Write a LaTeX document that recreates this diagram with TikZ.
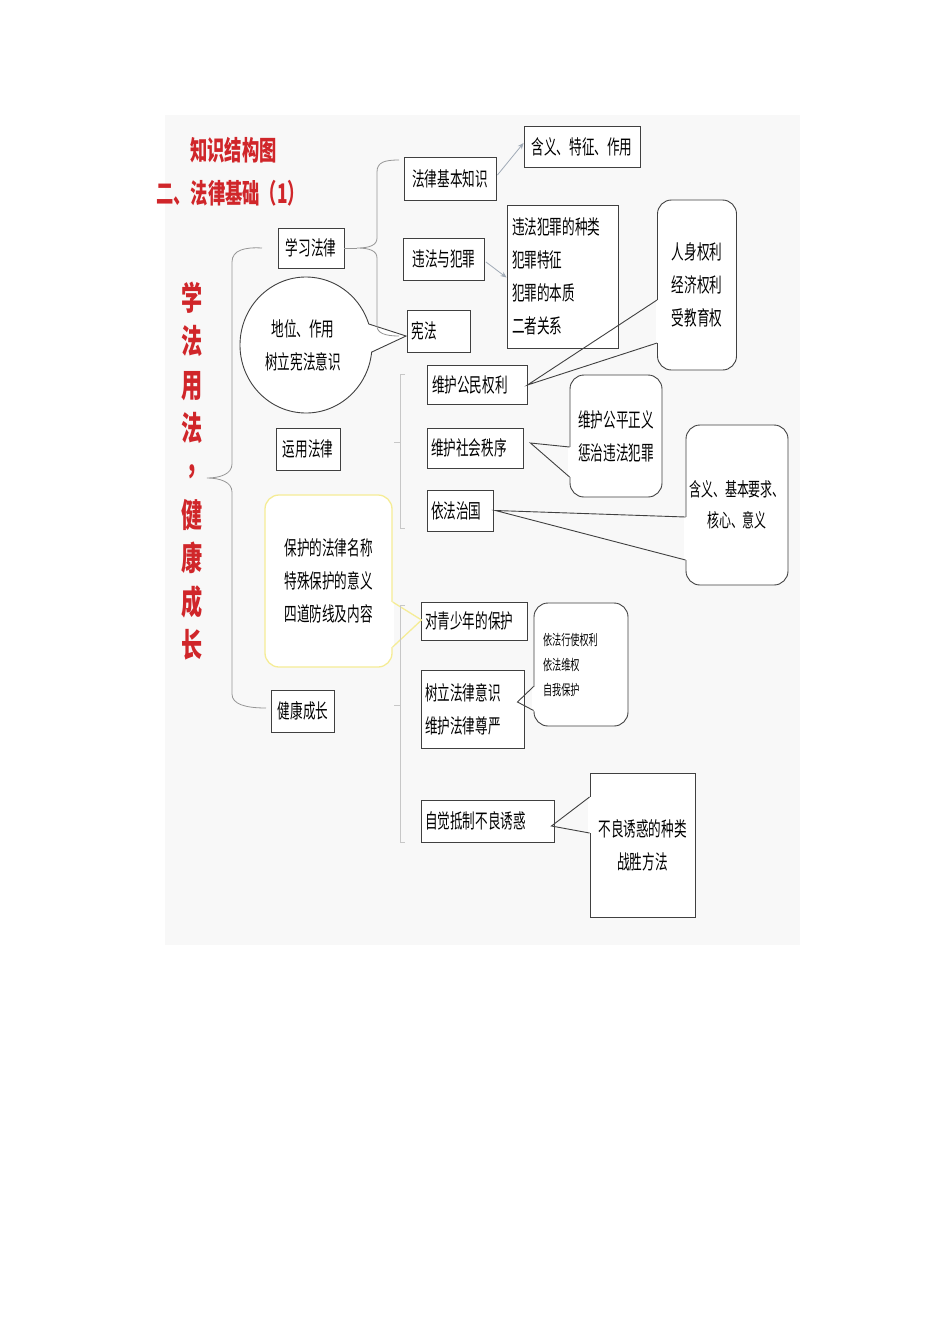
\documentclass[tikz,border=0pt]{standalone}
\usepackage{fontspec}
\newfontfamily\cjk[FakeStretch=0.63]{Noto Sans CJK SC}
\newfontfamily\cjkred[FakeStretch=0.64]{Noto Sans CJK SC}
\usetikzlibrary{calc,arrows.meta}
\definecolor{titred}{RGB}{208,38,42}
\definecolor{linegray}{RGB}{150,150,150}
\definecolor{arrgray}{RGB}{160,170,182}
\definecolor{yel}{RGB}{245,236,150}
\definecolor{bgray}{RGB}{248,248,248}
\newcommand\mytail[4]{%
  \draw[white, line width=2.6pt] (#2) -- (#4);
  \draw[#1] (#2) -- (#3) -- (#4);}
\begin{document}
\begin{tikzpicture}[x=1pt,y=-1pt,
  box/.style={draw=black!75, line width=0.9pt, fill=white, inner sep=0pt,
    font=\cjk\fontsize{20}{33}\selectfont},
  rbox/.style={box, rounded corners=14pt},
  brc/.style={draw=linegray, line width=0.8pt},
  lbrc/.style={draw=black!22, line width=0.8pt},
  tl/.style={draw=black!75, line width=0.9pt},
  ytl/.style={draw=yel, line width=1.3pt},
  arr/.style={draw=arrgray, line width=0.8pt, -{Stealth[length=6pt,width=5pt]}},
  red/.style={text=titred, inner sep=0pt},
]
\useasboundingbox (0,0) rectangle (950,1318);
\fill[bgray] (165,115) rectangle (800,945);

% titles
\node[red, anchor=west, font=\cjkred\bfseries\fontsize{27}{30}\selectfont] (t1) at (190,150) {知识结构图};
\node[red, anchor=west, font=\cjkred\bfseries\fontsize{27}{30}\selectfont] (t2) at (156,193) {二、法律基础（1）};
\node[red, align=center, font=\cjkred\bfseries\fontsize{33}{43.4}\selectfont] (vt) at (192,471)
  {学\\法\\用\\法\\\raisebox{12pt}{,}\\健\\康\\成\\长};

% first level
\node[box, minimum width=66, minimum height=40] (xxfl) at (311,248) {学习法律};
\node[box, minimum width=64, minimum height=42] (yyfl) at (308,449) {运用法律};
\node[box, minimum width=63, minimum height=42] (jkcz) at (303,711) {健康成长};

% 学习法律 group
\node[box, minimum width=92, minimum height=43] (jbzs) at (450,179) {法律基本知识};
\node[box, minimum width=81, minimum height=42] (wfzf) at (444,259) {违法与犯罪};
\node[box, minimum width=63, minimum height=42, text width=55, align=left] (xf) at (439,331) {宪法};
\node[box, minimum width=116, minimum height=41] (hy) at (582,147) {含义、特征、作用};
\node[box, minimum width=111, minimum height=143, text width=101, align=left] (wfzl) at (562.5,276.5)
  {违法犯罪的种类\\犯罪特征\\犯罪的本质\\二者关系};

% ellipse callout
\coordinate (dwc) at (306,345);
\draw[tl, fill=white] ($(dwc)+(6:66 and 68)$) arc[start angle=6, end angle=342, x radius=66, y radius=68]
  -- ($(xf.west)+(-1,5)$) -- cycle;
\node[inner sep=0pt, align=center, font=\cjk\fontsize{20}{33}\selectfont] (dw) at (303,345) {地位、作用\\树立宪法意识};

% 运用法律 group
\node[box, minimum width=100, minimum height=39, text width=90, align=left] (wh1) at (477,385) {维护公民权利};
\node[box, minimum width=96, minimum height=40, text width=88, align=left] (wh2) at (475,448) {维护社会秩序};
\node[box, minimum width=66, minimum height=41, text width=58, align=left] (yfzg) at (460,510.5) {依法治国};
\node[rbox, minimum width=79, minimum height=170, align=center] (rsql) at (697,285) {人身权利\\经济权利\\受教育权};
\node[rbox, minimum width=92, minimum height=122, align=center] (gpzy) at (616,436) {维护公平正义\\惩治违法犯罪};
\node[rbox, minimum width=102, minimum height=160, align=center, font=\cjk\fontsize{19}{31}\selectfont] (hyjb) at (737,505)
  {含义、基本要求、\\核心、意义};

% 健康成长 group
\node[rbox, draw=yel, line width=1.3pt, minimum width=127, minimum height=172, align=center] (ylw) at (328.5,581)
  {保护的法律名称\\特殊保护的意义\\四道防线及内容};
\node[box, minimum width=106, minimum height=38, text width=98, align=left] (dql) at (474,621) {对青少年的保护};
\node[box, minimum width=103, minimum height=78, text width=95, align=left] (sljy) at (472.5,709) {树立法律意识\\维护法律尊严};
\node[rbox, minimum width=94, minimum height=123, text width=76, align=left, font=\cjk\fontsize{14.5}{25}\selectfont] (yfxs) at (581,664.5)
  {依法行使权利\\依法维权\\自我保护};
\node[box, minimum width=133, minimum height=42, text width=125, align=left] (zjdz) at (487.5,821) {自觉抵制不良诱惑};
\node[box, minimum width=105, minimum height=144, align=center] (blyh) at (642.5,845) {不良诱惑的种类\\战胜方法};

% callout tails
\mytail{tl}{$(rsql.west)+(0,15)$}{wh1.east}{$(rsql.west)+(0,58)$}
\mytail{tl}{$(gpzy.west)+(0,11)$}{$(wh2.east)+(7,-5)$}{$(gpzy.west)+(0,41)$}
\mytail{tl}{$(hyjb.west)+(0,12)$}{$(yfzg.east)+(2,0)$}{$(hyjb.west)+(0,55)$}
\mytail{ytl}{$(ylw.east)+(0,21)$}{$(dql.west)+(1,-1)$}{$(ylw.east)+(0,66)$}
\mytail{tl}{$(yfxs.west)+(0,22)$}{$(sljy.east)+(-7,-7)$}{$(yfxs.west)+(0,46)$}
\mytail{tl}{$(blyh.west)+(0,-48)$}{$(zjdz.east)+(-3,5)$}{$(blyh.west)+(0,-12)$}

% arrows
\draw[arr] ($(jbzs.east)+(1,-4)$) -- ($(hy.west)+(0,-4)$);
\draw[arr] ($(wfzf.east)+(1,3)$) -- ($(wfzl.west)+(0,1)$);

% braces
\draw[brc] (262,248) .. controls (245,247) and (232,250) .. (232,262) -- (232,464)
  .. controls (232,474) and (220,478) .. (207,478)
  .. controls (220,478) and (232,482) .. (232,492) -- (232,694)
  .. controls (232,704) and (245,708) .. (266,708);
\draw[brc] (xxfl.east) -- (357,248);
\draw[brc] (399,160) .. controls (385,160) and (377,162) .. (377,172) -- (377,238)
  .. controls (377,245) and (370,248) .. (357,248)
  .. controls (370,248) and (377,251) .. (377,258) -- (377,326)
  .. controls (377,333) and (385,336) .. (399,336);
\draw[lbrc] (405,374) -- (400,374) -- (400,528) -- (405,528);
\draw[lbrc] (394,442) -- (400,442);
\draw[lbrc] (405,605) -- (400,605) -- (400,842) -- (405,842);
\draw[lbrc] (394,705) -- (400,705);
\end{tikzpicture}
\end{document}
